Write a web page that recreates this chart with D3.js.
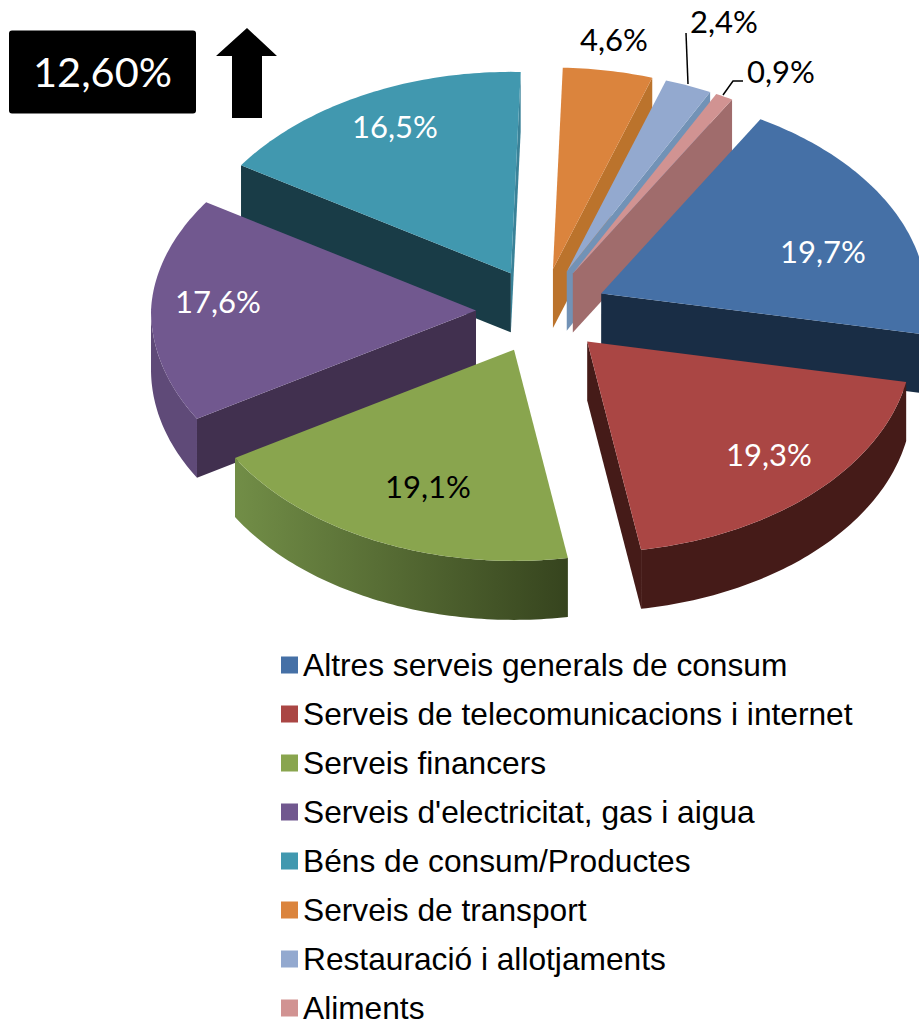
<!DOCTYPE html>
<html>
<head>
<meta charset="utf-8">
<script src="https://cdnjs.cloudflare.com/ajax/libs/d3/7.8.5/d3.min.js"></script>
<style>
  html, body { margin: 0; padding: 0; background: #fff; }
  svg { display: block; }
  .pct { font-family: Lato, sans-serif; font-size: 31px; }
  .legend-label { font-family: "Liberation Sans", Arial, sans-serif; font-size: 31.7px; fill: #000; }
</style>
</head>
<body>
<div id="chart"></div>
<script>
const categories = [
  'Altres serveis generals de consum',
  'Serveis de telecomunicacions i internet',
  'Serveis financers',
  "Serveis d'electricitat, gas i aigua",
  'Béns de consum/Productes',
  'Serveis de transport',
  'Restauració i allotjaments',
  'Aliments'
];
const shares = [19.7, 19.3, 19.1, 17.6, 16.5, 4.6, 2.4, 0.9];
const headline = '12,60%';

const topColors = ['#4570a6', '#aa4644', '#89a54e', '#71588f', '#4198af', '#db843d', '#93a9cf', '#d19392'];
const wallColors = ['#192d45', '#451b18', '#4f6330', '#41304f', '#193c47', '#bb732c', '#7292b6', '#a06c6c'];
const labelColors = ['#fff', '#fff', '#000', '#fff', '#fff', '#000', '#000', '#000'];
const labelSpots = [[823, 252], [769, 455], [428, 487], [218, 302], [395, 127], [614, 40], [724, 22], [781, 72]];

const W = 919, H = 1022;
const cfg = {
  cx: 541.5, cy: 311, r: 325, explode: 65.5, depth: 59,
  kFront: 0.65, kBack: 0.62, shrinkBack: 0.03, rotation: 30.2 * Math.PI / 180
};

const svg = d3.select('#chart').append('svg')
    .attr('width', W)
    .attr('height', H);

const defs = svg.append('defs');
const greenRim = defs.append('linearGradient')
    .attr('id', 'greenRim')
    .attr('gradientUnits', 'userSpaceOnUse')
    .attr('x1', 233).attr('x2', 568).attr('y1', 0).attr('y2', 0);
greenRim.append('stop').attr('offset', '0%').attr('stop-color', '#728e47');
greenRim.append('stop').attr('offset', '100%').attr('stop-color', '#36441e');

const arcs = d3.pie()
    .sort(null)
    .startAngle(cfg.rotation)
    .endAngle(cfg.rotation + 2 * Math.PI)(shares);

const line = d3.line().x(d => d[0]).y(d => d[1]);

// pie plane to screen, the back half is a bit smaller (perspective of the 3d pie)
const rimPoint = (tip, a, drop) => {
  const v = -Math.cos(a) * cfg.r;
  const sx = 1 - cfg.shrinkBack * Math.max(0, Math.cos(a));
  return [tip[0] + Math.sin(a) * cfg.r * sx, tip[1] + v * (v < 0 ? cfg.kBack : cfg.kFront) + drop];
};
const tipOf = d => {
  const mid = (d.startAngle + d.endAngle) / 2;
  return [
    cfg.cx + Math.sin(mid) * cfg.explode,
    cfg.cy - Math.cos(mid) * cfg.explode * cfg.kFront
  ];
};
const arcPoints = (tip, a0, a1, drop) => {
  const n = Math.max(2, Math.ceil((a1 - a0) * 60));
  return d3.range(n + 1).map(i => rimPoint(tip, a0 + (a1 - a0) * i / n, drop));
};
const wallPath = (tip, a) => {
  const p = rimPoint(tip, a, 0), q = rimPoint(tip, a, cfg.depth);
  return line([tip, p, q, [tip[0], tip[1] + cfg.depth]]) + 'Z';
};

// back to front
const paintOrder = [4, 3, 2, 5, 6, 7, 0, 1];
const pie = svg.append('g').attr('class', 'pie');

paintOrder.forEach(i => {
  const d = arcs[i], tip = tipOf(d);
  const g = pie.append('g');
  const wallFill = i === 2 ? 'url(#greenRim)' : wallColors[i];

  if (Math.sin(d.startAngle) < 0) {
    g.append('path').attr('d', wallPath(tip, d.startAngle)).attr('fill', wallColors[i]);
  }
  if (Math.sin(d.endAngle) > 0) {
    // the teal end face is almost edge-on and catches the light
    g.append('path').attr('d', wallPath(tip, d.endAngle)).attr('fill', i === 4 ? '#3a8298' : wallColors[i]);
  }

  // outer rim, only the part that faces the viewer
  const a0 = Math.max(d.startAngle, Math.PI / 2), a1 = Math.min(d.endAngle, 3 * Math.PI / 2);
  if (a1 > a0) {
    const rim = arcPoints(tip, a0, a1, 0)
        .concat(arcPoints(tip, a0, a1, cfg.depth).reverse());
    g.append('path')
        .attr('d', line(rim) + 'Z')
        .attr('fill', i === 3 ? '#5f4a78' : wallFill);
  }

  g.append('path')
      .attr('d', line([tip].concat(arcPoints(tip, d.startAngle, d.endAngle, 0))) + 'Z')
      .attr('fill', topColors[i]);
});

// leader lines of the two small slices
const leaders = [[[688, 84], [686, 33]], [[723, 95], [733, 81], [743, 81]]];
svg.append('g').selectAll('path')
    .data(leaders)
    .join('path')
    .attr('d', line)
    .attr('fill', 'none')
    .attr('stroke', '#000')
    .attr('stroke-width', 1.5);

svg.append('g').selectAll('text')
    .data(shares)
    .join('text')
    .attr('class', 'pct')
    .attr('x', (d, i) => labelSpots[i][0])
    .attr('y', (d, i) => labelSpots[i][1])
    .attr('dy', '.35em')
    .attr('text-anchor', 'middle')
    .attr('fill', (d, i) => labelColors[i])
    .text(d => d.toFixed(1).replace('.', ',') + '%');

// headline box and arrow
svg.append('rect')
    .attr('x', 9).attr('y', 30.5)
    .attr('width', 187).attr('height', 83)
    .attr('rx', 3)
    .attr('fill', '#000');
svg.append('text')
    .attr('class', 'pct')
    .style('font-size', '41.5px')
    .attr('x', 102.5).attr('y', 72)
    .attr('dy', '.35em')
    .attr('text-anchor', 'middle')
    .attr('fill', '#fff')
    .text(headline);
svg.append('path')
    .attr('d', line([[247, 28], [277, 56], [262, 56], [262, 118], [232, 118], [232, 56], [216, 56]]) + 'Z')
    .attr('fill', '#000');

// legend
const legendY = d3.scalePoint()
    .domain(categories)
    .range([665, 1008]);

const legend = svg.append('g').attr('class', 'legend')
  .selectAll('g')
  .data(categories)
  .join('g')
    .attr('transform', d => `translate(0,${legendY(d)})`);

legend.append('rect')
    .attr('x', 281).attr('y', -8.5)
    .attr('width', 17).attr('height', 17)
    .attr('fill', (d, i) => topColors[i]);

legend.append('text')
    .attr('class', 'legend-label')
    .attr('x', 303)
    .attr('dy', '.35em')
    .text(d => d);
</script>
</body>
</html>
